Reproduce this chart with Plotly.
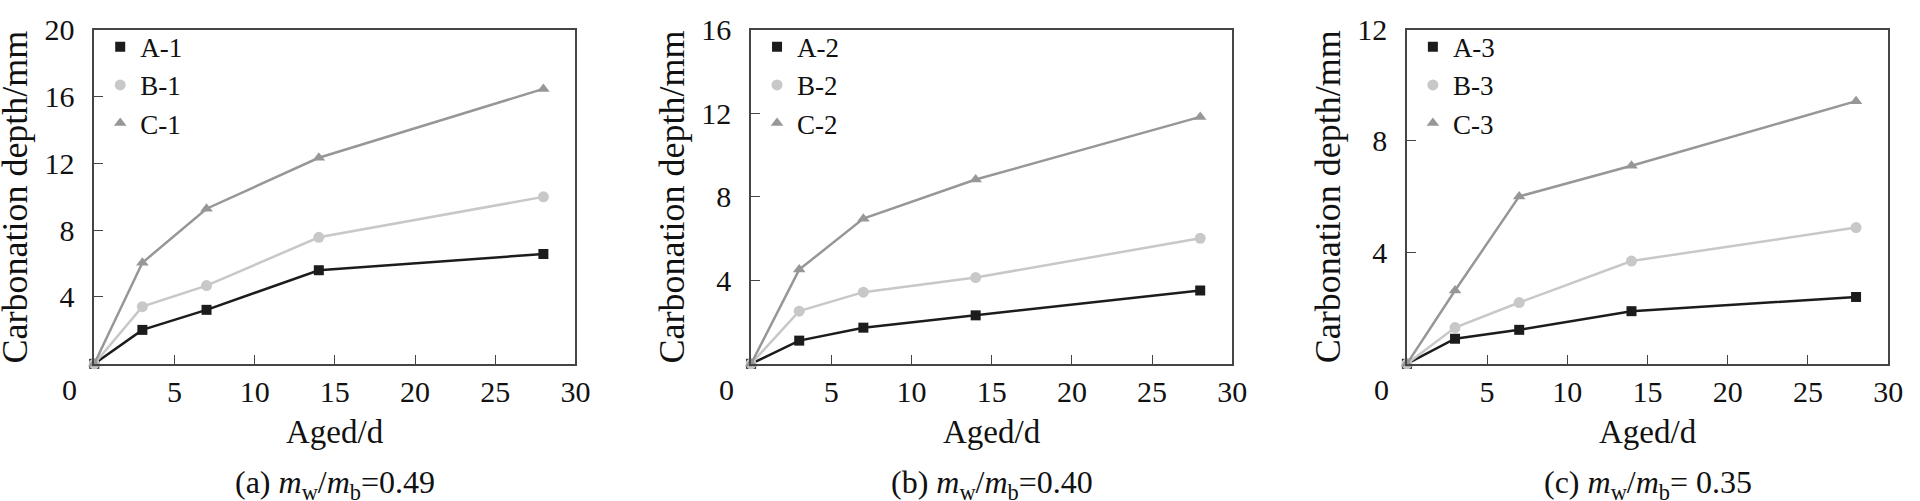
import plotly.graph_objects as go

days = [0, 3, 7, 14, 28]

# Panel (a) m_w/m_b = 0.49
a_A = [0, 2.03, 3.23, 5.60, 6.57]
a_B = [0, 3.42, 4.68, 7.57, 9.99]
a_C = [0, 6.05, 9.28, 12.33, 16.45]
# Panel (b) m_w/m_b = 0.40
b_A = [0, 1.11, 1.73, 2.32, 3.51]
b_B = [0, 2.52, 3.43, 4.13, 6.01]
b_C = [0, 4.51, 6.95, 8.82, 11.82]
# Panel (c) m_w/m_b = 0.35
c_A = [0, 0.90, 1.22, 1.89, 2.40]
c_B = [0, 1.30, 2.20, 3.69, 4.89]
c_C = [0, 2.63, 6.01, 7.11, 9.43]

series_names = [["A-1", "B-1", "C-1"], ["A-2", "B-2", "C-2"], ["A-3", "B-3", "C-3"]]
panel_values = [[a_A, a_B, a_C], [b_A, b_B, b_C], [c_A, c_B, c_C]]
y_max = [20, 16, 12]
y_ticks = [[4, 8, 12, 16, 20], [4, 8, 12, 16], [4, 8, 12]]
x_ticks = [5, 10, 15, 20, 25, 30]
captions = [
    "(a) <i>m</i><sub>w</sub>/<i>m</i><sub>b</sub>=0.49",
    "(b) <i>m</i><sub>w</sub>/<i>m</i><sub>b</sub>=0.40",
    "(c) <i>m</i><sub>w</sub>/<i>m</i><sub>b</sub>= 0.35",
]

colors = ["#1c1c1c", "#c8c8c8", "#979797"]
symbols = ["square", "circle", "triangle-up"]
msizes = [10, 11, 11]

W, H = 1920, 501
FONT = "Liberation Serif, Times New Roman, DejaVu Serif, serif"
px_left = [95, 757, 1418]
px_width = 485
px_top, px_bottom = 13, 359

fig = go.Figure()
layout = dict(
    width=W, height=H, margin=dict(l=0, r=0, t=0, b=0),
    paper_bgcolor="white", plot_bgcolor="white",
    font=dict(family=FONT, color="#111", size=30),
    showlegend=True, annotations=[],
)

ydom = [1 - px_bottom / H, 1 - px_top / H]
for p in range(3):
    xa = "x" if p == 0 else f"x{p+1}"
    ya = "y" if p == 0 else f"y{p+1}"
    lg = "legend" if p == 0 else f"legend{p+1}"
    for s in range(3):
        vals = panel_values[p][s]
        fig.add_trace(go.Scatter(
            x=days, y=vals, mode="lines+markers", xaxis=xa, yaxis=ya,
            line=dict(color=colors[s], width=2.5),
            marker=dict(symbol=symbols[s], size=msizes[s], color=colors[s]),
            showlegend=False, cliponaxis=False, hoverinfo="skip",
        ))
    for s in range(3):
        fig.add_trace(go.Scatter(
            x=[None], y=[None], mode="markers", xaxis=xa, yaxis=ya,
            marker=dict(symbol=symbols[s], size=msizes[s], color=colors[s]),
            name=series_names[p][s], legend=lg, showlegend=True,
        ))
    x0 = px_left[p] / W
    x1 = (px_left[p] + px_width) / W
    axis_common = dict(
        showline=True, linecolor="#454545", linewidth=1.5, mirror=True,
        ticks="inside", ticklen=9, tickwidth=1.3, tickcolor="#454545",
        showgrid=False, zeroline=False, ticklabeloverflow="allow",
        tickfont=dict(family=FONT, size=30, color="#111"),
    )
    layout["xaxis" if p == 0 else f"xaxis{p+1}"] = dict(
        domain=[x0, x1], range=[0, 30], tickvals=x_ticks,
        anchor=ya, ticklabelstandoff=0, **axis_common)
    layout["yaxis" if p == 0 else f"yaxis{p+1}"] = dict(
        domain=ydom, range=[0, y_max[p]], tickvals=y_ticks[p],
        anchor=xa, ticklabelstandoff=12, **axis_common)
    layout[lg] = dict(
        x=(px_left[p] + 6) / W, y=1 - 6 / H, xanchor="left", yanchor="top",
        bgcolor="rgba(0,0,0,0)", borderwidth=0,
        font=dict(family=FONT, size=27, color="#111"),
        itemwidth=30, tracegroupgap=0,
    )
    cx = (px_left[p] + px_width / 2) / W
    # stray "0" label shifted left of the origin, as in the reference
    layout["annotations"].append(dict(
        text="0", x=0, xref=xa, xshift=-25, y=1 - 386 / H, yref="paper",
        showarrow=False, font=dict(family=FONT, size=30, color="#111"),
        xanchor="center", yanchor="middle"))
    layout["annotations"].append(dict(
        text="Aged/d", x=cx, y=1 - 430 / H, xref="paper", yref="paper",
        showarrow=False, font=dict(family=FONT, size=33, color="#111"),
        xanchor="center", yanchor="middle"))
    layout["annotations"].append(dict(
        text=captions[p], x=cx, y=1 - 484 / H, xref="paper", yref="paper",
        showarrow=False, font=dict(family=FONT, size=32, color="#111"),
        xanchor="center", yanchor="middle"))
    layout["annotations"].append(dict(
        text="Carbonation depth/mm", x=(px_left[p] - 80) / W,
        y=1 - (px_top + px_bottom) / 2 / H, xref="paper", yref="paper",
        textangle=-90, showarrow=False,
        font=dict(family=FONT, size=36, color="#111"),
        xanchor="center", yanchor="middle"))

fig.update_layout(**layout)
fig.write_html(
    "out.html",
    config={"displayModeBar": False},
    post_script="document.body.style.margin='0';document.body.style.overflow='hidden';",
)
